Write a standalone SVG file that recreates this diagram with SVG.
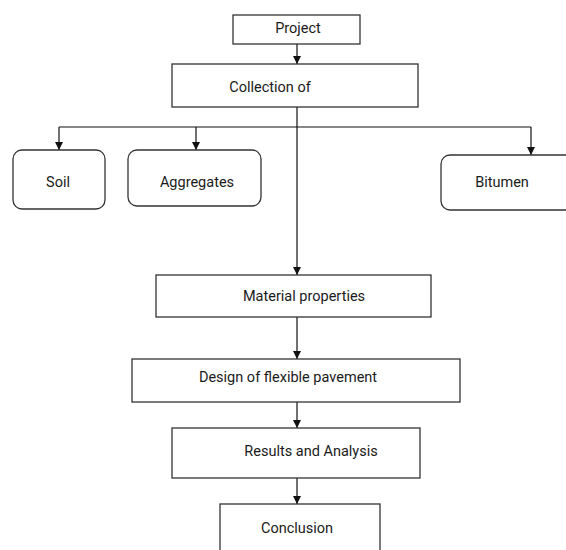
<svg xmlns="http://www.w3.org/2000/svg" width="566" height="550" viewBox="0 0 566 550">
<style>
.box{fill:#fff;stroke:#333;stroke-width:1.3}
.t{font-family:Roboto,"Liberation Sans",sans-serif;font-size:14.5px;fill:#1a1a1a;text-anchor:middle;dominant-baseline:central}
.c{fill:none;stroke:#111;stroke-width:1.2}
</style>
<defs>
<marker id="ah" viewBox="0 0 10 10" refX="10" refY="5" markerWidth="8" markerHeight="8" markerUnits="userSpaceOnUse" orient="auto">
<path d="M0,0 L10,5 L0,10 Z" fill="#111"/>
</marker>
</defs>
<rect width="566" height="550" fill="#fff"/>
<g id="connectors">
<line class="c" x1="297" y1="44" x2="297" y2="64" marker-end="url(#ah)"/>
<line class="c" x1="297" y1="107" x2="297" y2="275" marker-end="url(#ah)"/>
<line class="c" x1="59" y1="127" x2="531" y2="127"/>
<line class="c" x1="59" y1="127" x2="59" y2="150" marker-end="url(#ah)"/>
<line class="c" x1="196" y1="127" x2="196" y2="150" marker-end="url(#ah)"/>
<line class="c" x1="531" y1="127" x2="531" y2="155" marker-end="url(#ah)"/>
<line class="c" x1="297" y1="317" x2="297" y2="359" marker-end="url(#ah)"/>
<line class="c" x1="297" y1="402" x2="297" y2="428" marker-end="url(#ah)"/>
<line class="c" x1="297" y1="478" x2="297" y2="504" marker-end="url(#ah)"/>
</g>
<g id="project"><rect class="box" x="233" y="15" width="127" height="29"/><text class="t" x="298" y="28">Project</text></g>
<g id="collection"><rect class="box" x="172" y="64" width="246" height="43"/><text class="t" x="270" y="87">Collection of</text></g>
<g id="soil"><rect class="box" x="13" y="150" width="92" height="59" rx="9"/><text class="t" x="58" y="182">Soil</text></g>
<g id="aggregates"><rect class="box" x="128" y="150" width="133" height="56" rx="9"/><text class="t" x="197" y="182">Aggregates</text></g>
<g id="bitumen"><rect class="box" x="441" y="155" width="134" height="55" rx="9"/><text class="t" x="502" y="182">Bitumen</text></g>
<g id="material"><rect class="box" x="156" y="275" width="275" height="42"/><text class="t" x="304" y="296">Material properties</text></g>
<g id="design"><rect class="box" x="132" y="359" width="328" height="43"/><text class="t" x="288" y="377">Design of flexible pavement</text></g>
<g id="results"><rect class="box" x="172" y="428" width="248" height="50"/><text class="t" x="311" y="451">Results and Analysis</text></g>
<g id="conclusion"><rect class="box" x="220" y="504" width="160" height="60"/><text class="t" x="297" y="528">Conclusion</text></g>
</svg>
